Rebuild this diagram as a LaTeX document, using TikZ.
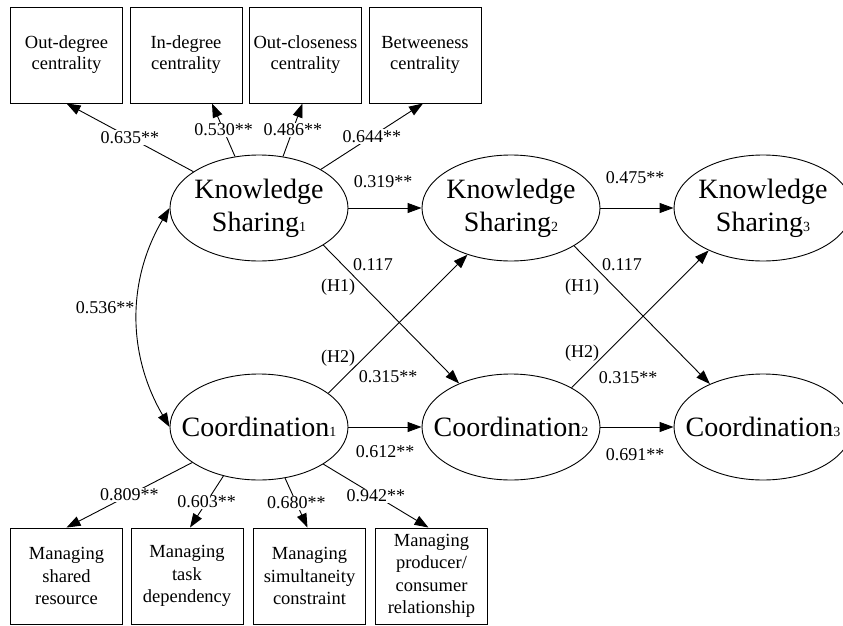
\documentclass[tikz,border=0pt]{standalone}
\usepackage{fontspec}
\setmainfont{Liberation Serif}
\usetikzlibrary{arrows.meta,shapes.geometric}
\newcommand{\subd}[1]{{\fontsize{14}{14}\selectfont #1}}
\begin{document}
\begin{tikzpicture}[x=1pt,y=-1pt,
 lat/.style={draw, ellipse, minimum width=178pt, minimum height=106pt, inner sep=0pt, line width=0.9pt},
 lattext/.style={inner sep=0pt, font=\fontsize{28}{33}\selectfont, align=center},
 ind/.style={draw, rectangle, minimum width=112pt, minimum height=96pt, inner sep=0pt, font=\fontsize{18.5}{21}\selectfont, align=center, line width=0.9pt},
 indb/.style={ind, font=\fontsize{18.5}{22.5}\selectfont},
 arr/.style={line width=0.9pt, -{Triangle[length=14pt,width=10pt]}},
 darr/.style={line width=0.9pt, {Triangle[length=14pt,width=10pt]}-{Triangle[length=14pt,width=10pt]}},
 coef/.style={font=\fontsize{18}{18}\selectfont, fill=white, inner sep=1pt},
 lbl/.style={font=\fontsize{18}{18}\selectfont, inner sep=1pt}]
\useasboundingbox (0,0) rectangle (843,626);

% latent variables
\node[lat] (ks1) at (259,208) {};
\node[lat] (ks2) at (511,208) {};
\node[lat] (ks3) at (763,208) {};
\node[lat] (c1) at (259,427) {};
\node[lat] (c2) at (511,427) {};
\node[lat] (c3) at (763,427) {};
\node[lattext] (tks1) at (ks1) {Knowledge\\Sharing\subd{1}};
\node[lattext] (tks2) at (ks2) {Knowledge\\Sharing\subd{2}};
\node[lattext] (tks3) at (ks3) {Knowledge\\Sharing\subd{3}};
\node[lattext] (tc1) at (c1) {Coordination\subd{1}};
\node[lattext] (tc2) at (c2) {Coordination\subd{2}};
\node[lattext] (tc3) at (c3) {Coordination\subd{3}};

% top indicators
\node[ind] (od) at (66.5,55) {Out-degree\\centrality};
\node[ind] (id) at (186,55) {In-degree\\centrality};
\node[ind] (oc) at (305.5,55) {Out-closeness\\centrality};
\node[ind] (bc) at (425,55) {Betweeness\\centrality};

% bottom indicators
\node[indb] (m1) at (66.5,576) {Managing\\shared\\resource};
\node[indb] (m2) at (187,576) {Managing\\task\\dependency};
\node[indb] (m3) at (309.5,576) {Managing\\simultaneity\\constraint};
\node[indb] (m4) at (431.5,576) {Managing\\producer/\\consumer\\relationship};

% loadings top
\draw[arr] (ks1.151) -- node[coef] (lod) {0.635**} (od.south);
\draw[arr] (ks1.115) -- node[coef] (lid) {0.530**} ([xshift=26pt]id.south);
\draw[arr] (ks1.65) -- node[coef] (loc) {0.486**} ([xshift=-3pt]oc.south);
\draw[arr] (ks1.32) -- node[coef] (lbc) {0.644**} ([xshift=-2pt]bc.south);

% loadings bottom
\draw[arr] (c1.208) -- node[coef] (lm1) {0.809**} (m1.north);
\draw[arr] (c1.234) -- node[coef] (lm2) {0.603**} ([xshift=3pt]m2.north);
\draw[arr] (c1.297) -- node[coef] (lm3) {0.680**} ([xshift=-2pt]m3.north);
\draw[arr] (c1.330) -- node[coef] (lm4) {0.942**} ([xshift=-3pt]m4.north);

% horizontal paths
\draw[arr] (ks1.east) -- (ks2.west);
\node[lbl] (p1) at (383,182) {0.319**};
\draw[arr] (ks2.east) -- (ks3.west);
\node[lbl] (p2) at (635,178) {0.475**};
\draw[arr] (c1.east) -- (c2.west);
\node[lbl] (p3) at (385,452) {0.612**};
\draw[arr] (c2.east) -- (c3.west);
\node[lbl] (p4) at (635,455) {0.691**};

% cross-lagged paths
\draw[arr] (ks1.-30) -- (c2.140);
\node[lbl] (h1a) at (373,265) {0.117};
\node[lbl] (h1b) at (338,287) {(H1)};
\draw[arr] (c1.26) -- (ks2.227);
\node[lbl] (h2b) at (338,358) {(H2)};
\node[lbl] (h2a) at (388,377) {0.315**};
\draw[arr] (ks2.-31) -- (c3.141);
\node[lbl] (h1c) at (622,265) {0.117};
\node[lbl] (h1d) at (582,287) {(H1)};
\draw[arr] (c2.33) -- (ks3.218);
\node[lbl] (h2d) at (582,353) {(H2)};
\node[lbl] (h2c) at (628,378) {0.315**};

% correlation
\draw[darr] (ks1.west) .. controls (127,280) and (127,354) .. (c1.west);
\node[lbl] (cor) at (105,308) {0.536**};
\end{tikzpicture}
\end{document}
